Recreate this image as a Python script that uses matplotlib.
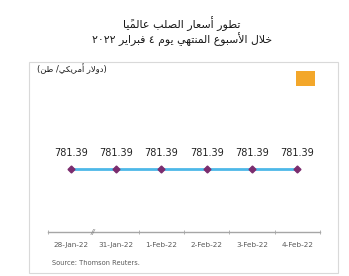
import matplotlib
matplotlib.use("Agg")
import matplotlib.pyplot as plt
from matplotlib.patches import Rectangle

plt.rcParams["font.family"] = ["DejaVu Sans"]

# data
dates = ["28-Jan-22", "31-Jan-22", "1-Feb-22", "2-Feb-22", "3-Feb-22", "4-Feb-22"]
prices = [781.39, 781.39, 781.39, 781.39, 781.39, 781.39]

title_1 = "تطور أسعار الصلب عالميًا"
title_2 = "خلال الأسبوع المنتهي يوم ٤ فبراير ٢٠٢٢"
unit_label = "(دولار أمريكي/ طن)"
source = "Source: Thomson Reuters."


# --- tiny arabic shaper (no arabic_reshaper / bidi available) ---
# isolated, final, initial, medial
FORMS = {
    "ا": (0xFE8D, 0xFE8E), "أ": (0xFE83, 0xFE84), "إ": (0xFE87, 0xFE88),
    "آ": (0xFE81, 0xFE82), "د": (0xFEA9, 0xFEAA), "ذ": (0xFEAB, 0xFEAC),
    "ر": (0xFEAD, 0xFEAE), "ز": (0xFEAF, 0xFEB0), "و": (0xFEED, 0xFEEE),
    "ة": (0xFE93, 0xFE94), "ى": (0xFEEF, 0xFEF0),
    "ب": (0xFE8F, 0xFE90, 0xFE91, 0xFE92), "ت": (0xFE95, 0xFE96, 0xFE97, 0xFE98),
    "ث": (0xFE99, 0xFE9A, 0xFE9B, 0xFE9C), "ج": (0xFE9D, 0xFE9E, 0xFE9F, 0xFEA0),
    "ح": (0xFEA1, 0xFEA2, 0xFEA3, 0xFEA4), "خ": (0xFEA5, 0xFEA6, 0xFEA7, 0xFEA8),
    "س": (0xFEB1, 0xFEB2, 0xFEB3, 0xFEB4), "ش": (0xFEB5, 0xFEB6, 0xFEB7, 0xFEB8),
    "ص": (0xFEB9, 0xFEBA, 0xFEBB, 0xFEBC), "ض": (0xFEBD, 0xFEBE, 0xFEBF, 0xFEC0),
    "ط": (0xFEC1, 0xFEC2, 0xFEC3, 0xFEC4), "ظ": (0xFEC5, 0xFEC6, 0xFEC7, 0xFEC8),
    "ع": (0xFEC9, 0xFECA, 0xFECB, 0xFECC), "غ": (0xFECD, 0xFECE, 0xFECF, 0xFED0),
    "ف": (0xFED1, 0xFED2, 0xFED3, 0xFED4), "ق": (0xFED5, 0xFED6, 0xFED7, 0xFED8),
    "ك": (0xFED9, 0xFEDA, 0xFEDB, 0xFEDC), "ل": (0xFEDD, 0xFEDE, 0xFEDF, 0xFEE0),
    "م": (0xFEE1, 0xFEE2, 0xFEE3, 0xFEE4), "ن": (0xFEE5, 0xFEE6, 0xFEE7, 0xFEE8),
    "ه": (0xFEE9, 0xFEEA, 0xFEEB, 0xFEEC), "ي": (0xFEF1, 0xFEF2, 0xFEF3, 0xFEF4),
}
LAM_ALEF = {"ا": (0xFEFB, 0xFEFC), "أ": (0xFEF7, 0xFEF8),
            "إ": (0xFEF9, 0xFEFA), "آ": (0xFEF5, 0xFEF6)}
MARKS = "\u064B\u064C\u064D\u064E\u064F\u0650\u0651\u0652"
DIGITS = "0123456789.\u0660\u0661\u0662\u0663\u0664\u0665\u0666\u0667\u0668\u0669"
MIRROR = {"(": ")", ")": "("}


def shape(text):
    clusters = []
    for c in text:
        if c in MARKS and clusters:
            clusters[-1] += c
        else:
            clusters.append(c)
    res, i, prev_joins = [], 0, False
    while i < len(clusters):
        cl = clusters[i]
        base, marks = cl[0], cl[1:]
        nxt = clusters[i + 1][0] if i + 1 < len(clusters) else None
        if base == "ل" and nxt in LAM_ALEF:
            iso, fin = LAM_ALEF[nxt]
            res.append(chr(fin if prev_joins else iso) + marks + clusters[i + 1][1:])
            prev_joins = False
            i += 2
            continue
        if base in FORMS:
            f = FORMS[base]
            dual = len(f) == 4
            to_next = dual and nxt in FORMS
            if prev_joins and to_next:
                g = f[3]
            elif prev_joins:
                g = f[1]
            elif to_next:
                g = f[2]
            else:
                g = f[0]
            res.append(chr(g) + marks)
            prev_joins = dual
        else:
            res.append(cl)
            prev_joins = False
        i += 1
    return res


def rtl(text):
    runs = []
    for c in shape(text):
        if c[0] in DIGITS:
            if runs and runs[-1][0] == "num":
                runs[-1][1].append(c)
            else:
                runs.append(["num", [c]])
        else:
            runs.append(["ch", [MIRROR.get(c, c)]])
    return "".join("".join(r[1]) for r in reversed(runs))


fig = plt.figure(figsize=(3.49, 2.76), dpi=100)

# outer frame
fig.patches.append(Rectangle((29 / 349, 1 - 273 / 276), 309 / 349, 211 / 276,
                             transform=fig.transFigure, fill=False,
                             edgecolor="#D9D9D9", linewidth=0.8))

fig.text(0.522, 0.913, rtl(title_1), ha="center", va="center", fontsize=8, color="#1A1A1A")
fig.text(0.522, 0.859, rtl(title_2), ha="center", va="center", fontsize=7.8, color="#1A1A1A")
fig.text(0.106, 0.75, rtl(unit_label), ha="left", va="center", fontsize=6, color="#1A1A1A")
fig.text(0.149, 0.047, source, ha="left", va="center", fontsize=4.8, color="#595959")

# orange legend square
fig.patches.append(Rectangle((296 / 349, 1 - 86 / 276), 19 / 349, 15 / 276,
                             transform=fig.transFigure, facecolor="#F3A72A",
                             edgecolor="none"))

ax = fig.add_axes([48 / 349, 1 - 232 / 276, 272 / 349, 132 / 276])
x = list(range(len(dates)))
ax.plot(x, prices, color="#4DB8E8", linewidth=2, zorder=2)
ax.plot(x, prices, linestyle="none", marker="D", markersize=3.5,
        color="#7B2C6E", zorder=3)
for xi, v in zip(x, prices):
    ax.annotate(f"{v:.2f}", xy=(xi, v), xytext=(0, 11.5), textcoords="offset points",
                ha="center", va="center", fontsize=7, color="#222222")

ax.set_xlim(-0.5, len(dates) - 0.5)
ax.set_ylim(0, 1640)
for s in ["left", "right", "top"]:
    ax.spines[s].set_visible(False)
ax.spines["bottom"].set_color("#A6A6A6")
ax.spines["bottom"].set_linewidth(1)
ax.set_yticks([])
ax.set_xticks(x)
ax.set_xticklabels(dates, fontsize=5.2, color="#595959")
ax.tick_params(axis="x", length=0, pad=7)
bounds = [-0.5] + [b + 0.5 for b in x[1:]]
ax.set_xticks(bounds, minor=True)
ax.tick_params(axis="x", which="minor", length=2.5, color="#A6A6A6", direction="inout")
ax.text(0.5, 0, "//", ha="center", va="center", fontsize=5, color="#7F7F7F",
        fontstyle="italic", transform=ax.get_xaxis_transform())

fig.savefig("out.png", dpi=100)
